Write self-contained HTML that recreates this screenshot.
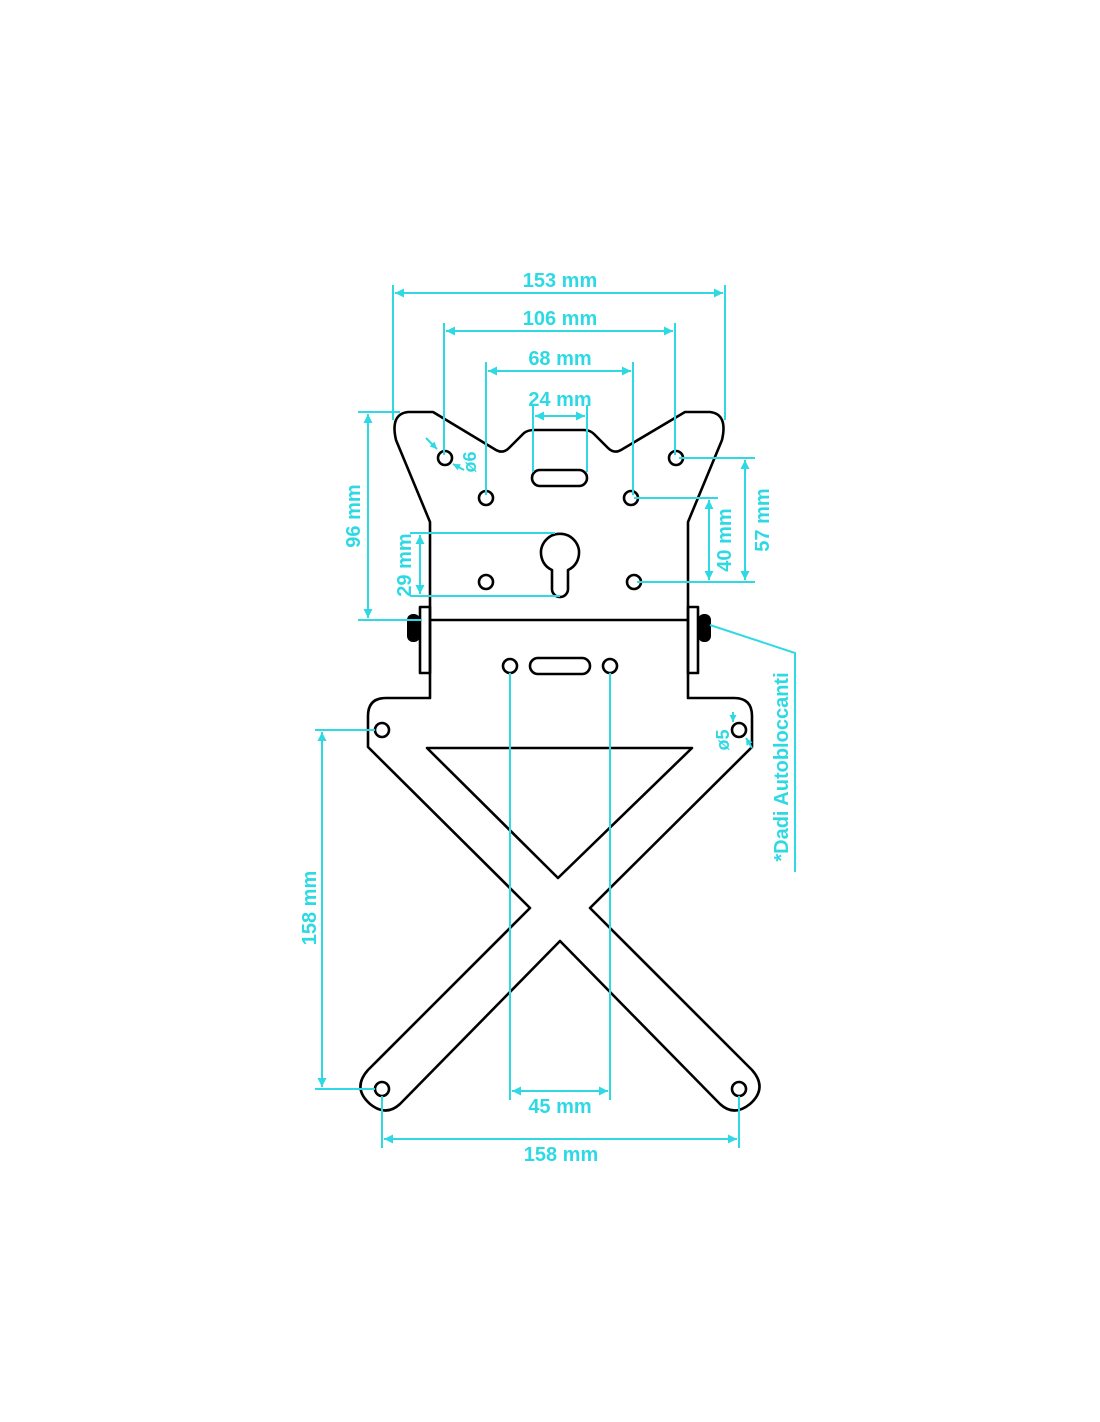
<!DOCTYPE html>
<html><head><meta charset="utf-8"><style>
html,body{margin:0;padding:0;background:#fff}
svg{display:block}
text{font-family:"Liberation Sans",sans-serif;font-weight:bold;font-size:20px;fill:#2ed9e4}
</style></head><body>
<svg width="1100" height="1422" viewBox="0 0 1100 1422" xmlns="http://www.w3.org/2000/svg">
<defs>
<marker id="a" viewBox="0 0 10 10" refX="10" refY="5" markerWidth="15" markerHeight="9" orient="auto-start-reverse" markerUnits="userSpaceOnUse"><path d="M0,0L10,5L0,10z" fill="#2ed9e4"/></marker>
<marker id="s" viewBox="0 0 10 10" refX="10" refY="5" markerWidth="9" markerHeight="7" orient="auto-start-reverse" markerUnits="userSpaceOnUse"><path d="M0,0L10,5L0,10z" fill="#2ed9e4"/></marker>
</defs>
<g fill="none" stroke="#000" stroke-width="2.6" stroke-linejoin="round">
<path d="M430,620 L430,522 L396,440 Q390,414 408,412 L433,412 L496,450 Q503,454 509,448 L524,433 Q528,430 534,430 L584,430 Q590,430 594,434 L608,448 Q614,454 621,450 L685,412 L710,412 Q728,414 722,440 L688,522 L688,620"/>
<line x1="430" y1="620" x2="688" y2="620"/>
<path d="M430,620 L430,698 L386,698 Q368,698 368,716 L368,747 L530,908 L368,1070 Q352,1088 370,1104 Q386,1117 400,1104 L560,941 L720,1104 Q734,1117 750,1104 Q768,1088 752,1070 L590,908 L752,747 L752,716 Q752,698 734,698 L688,698 L688,620"/>
<path d="M427,748 L692,748 L558,878 Z"/>
<rect x="420" y="607" width="10" height="66"/>
<rect x="688" y="607" width="10" height="66"/>
<circle cx="445" cy="458" r="7"/><circle cx="676" cy="458" r="7"/>
<circle cx="486" cy="498" r="7"/><circle cx="631" cy="498" r="7"/>
<circle cx="486" cy="582" r="7"/><circle cx="634" cy="582" r="7"/>
<rect x="532" y="470" width="55" height="16" rx="8"/>
<path d="M552,570 A19,19 0 1 1 568,570 L568,589 A8,8 0 0 1 552,589 Z"/>
<circle cx="510" cy="666" r="7"/><circle cx="610" cy="666" r="7"/>
<rect x="530" y="658" width="60" height="16" rx="8"/>
<circle cx="382" cy="730" r="7"/><circle cx="739" cy="730" r="7"/>
<circle cx="382" cy="1089" r="7"/><circle cx="739" cy="1089" r="7"/>
</g>
<rect x="407" y="614" width="13" height="28" rx="6" fill="#000"/>
<rect x="698" y="614" width="13" height="28" rx="6" fill="#000"/>
<g stroke="#2ed9e4" stroke-width="2" fill="none">
<line x1="393" y1="285" x2="393" y2="420"/><line x1="725" y1="285" x2="725" y2="420"/>
<line x1="395" y1="293" x2="723" y2="293" marker-start="url(#a)" marker-end="url(#a)"/>
<line x1="444" y1="323" x2="444" y2="455"/><line x1="675" y1="323" x2="675" y2="455"/>
<line x1="446" y1="331" x2="673" y2="331" marker-start="url(#a)" marker-end="url(#a)"/>
<line x1="486" y1="362" x2="486" y2="495"/><line x1="633" y1="362" x2="633" y2="495"/>
<line x1="488" y1="371" x2="631" y2="371" marker-start="url(#a)" marker-end="url(#a)"/>
<line x1="533" y1="405" x2="533" y2="472"/><line x1="587" y1="405" x2="587" y2="472"/>
<line x1="535" y1="416" x2="585" y2="416" marker-start="url(#a)" marker-end="url(#a)"/>
<line x1="358" y1="412" x2="400" y2="412"/><line x1="358" y1="620" x2="422" y2="620"/>
<line x1="368" y1="414" x2="368" y2="618" marker-start="url(#a)" marker-end="url(#a)"/>
<line x1="410" y1="533" x2="555" y2="533"/><line x1="410" y1="596" x2="560" y2="596"/>
<line x1="420" y1="535" x2="420" y2="594" marker-start="url(#a)" marker-end="url(#a)"/>
<line x1="634" y1="498" x2="718" y2="498"/><line x1="637" y1="582" x2="755" y2="582"/>
<line x1="709" y1="500" x2="709" y2="580" marker-start="url(#a)" marker-end="url(#a)"/>
<line x1="679" y1="458" x2="755" y2="458"/>
<line x1="745" y1="460" x2="745" y2="580" marker-start="url(#a)" marker-end="url(#a)"/>
<line x1="315" y1="730" x2="375" y2="730"/><line x1="315" y1="1089" x2="375" y2="1089"/>
<line x1="322" y1="732" x2="322" y2="1087" marker-start="url(#a)" marker-end="url(#a)"/>
<line x1="510" y1="673" x2="510" y2="1100"/><line x1="610" y1="673" x2="610" y2="1100"/>
<line x1="512" y1="1091" x2="608" y2="1091" marker-start="url(#a)" marker-end="url(#a)"/>
<line x1="382" y1="1096" x2="382" y2="1148"/><line x1="739" y1="1096" x2="739" y2="1148"/>
<line x1="384" y1="1139" x2="737" y2="1139" marker-start="url(#a)" marker-end="url(#a)"/>
<polyline points="710,625 795,653 795,872"/>
<line x1="426" y1="438" x2="437" y2="449" marker-end="url(#s)"/>
<line x1="464" y1="470" x2="453" y2="464" marker-end="url(#s)"/>
<line x1="733" y1="712" x2="733" y2="722" marker-end="url(#s)"/>
<line x1="752" y1="748" x2="746" y2="738" marker-end="url(#s)"/>
</g>
<g text-anchor="middle">
<text x="560" y="287">153 mm</text>
<text x="560" y="325">106 mm</text>
<text x="560" y="365">68 mm</text>
<text x="560" y="406">24 mm</text>
<text x="560" y="1113">45 mm</text>
<text x="561" y="1161">158 mm</text>
<text transform="translate(360,516) rotate(-90)">96 mm</text>
<text transform="translate(411,565) rotate(-90)">29 mm</text>
<text transform="translate(731,540) rotate(-90)">40 mm</text>
<text transform="translate(769,520) rotate(-90)">57 mm</text>
<text transform="translate(316,908) rotate(-90)">158 mm</text>
<text transform="translate(476,462) rotate(-90)" style="font-size:18px">ø6</text>
<text transform="translate(729,740) rotate(-90)" style="font-size:18px">ø5</text>
<text transform="translate(788,767) rotate(-90)">*Dadi Autobloccanti</text>
</g>
</svg>
</body></html>
